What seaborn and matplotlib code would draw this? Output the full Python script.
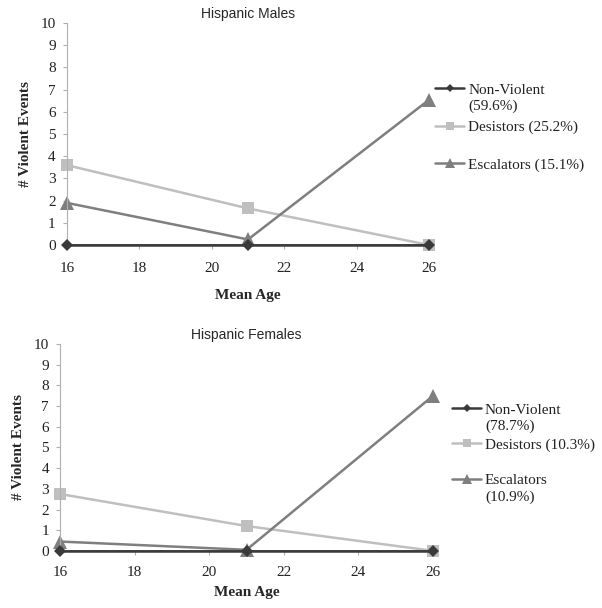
import matplotlib
matplotlib.use("Agg")
import matplotlib.pyplot as plt
from matplotlib.lines import Line2D
import pandas as pd
import seaborn as sns

sns.set_style("ticks")
plt.rcParams["font.family"] = ["Liberation Serif", "DejaVu Serif"]

ages = [16, 21, 26]
groups = ["Non-Violent", "Desistors", "Escalators"]

males_nonviolent = [0, 0, 0]
males_desistors = [3.6, 1.65, 0]
males_escalators = [1.9, 0.25, 6.55]
males_labels = ["Non-Violent\n(59.6%)", "Desistors (25.2%)", "Escalators (15.1%)"]

females_nonviolent = [0, 0, 0]
females_desistors = [2.75, 1.2, 0]
females_escalators = [0.45, 0.05, 7.5]
females_labels = ["Non-Violent\n(78.7%)", "Desistors (10.3%)", "Escalators\n(10.9%)"]

colors = {"Non-Violent": "#3a3a3a", "Desistors": "#bfbfbf", "Escalators": "#7f7f7f"}
markers = {"Non-Violent": "D", "Desistors": "s", "Escalators": "^"}
msizes = {"Non-Violent": 6, "Desistors": 8, "Escalators": 9.5}

FS = 11


def make_frame(nonviolent, desistors, escalators):
    rows = []
    for grp, vals in zip(groups, [nonviolent, desistors, escalators]):
        for age, v in zip(ages, vals):
            rows.append({"age": age, "events": v, "group": grp})
    return pd.DataFrame(rows)


def draw_panel(ax, df, title, labels, legend_anchor, spacing, xpad, xlabelpad):
    for grp in groups:
        sub = df[df.group == grp]
        sns.lineplot(
            data=sub, x="age", y="events", ax=ax,
            color=colors[grp], marker=markers[grp], markersize=msizes[grp],
            markeredgewidth=0, linewidth=1.8,
            clip_on=False, zorder=3 if grp == "Non-Violent" else 2,
        )
    ax.set_xlim(16, 26)
    ax.set_ylim(0, 10)
    ax.set_xticks(range(16, 27, 2))
    ax.set_yticks(range(0, 11))
    ax.tick_params(labelsize=FS, length=3, width=0.8, colors="#b0b0b0",
                   labelcolor="#222222", pad=5)
    ax.tick_params(axis="x", pad=xpad)
    ax.spines[["top", "right"]].set_visible(False)
    ax.spines["left"].set_color("#b0b0b0")
    ax.spines["bottom"].set_color("#3a3a3a")
    ax.spines["bottom"].set_linewidth(1.2)
    ax.set_xlabel("Mean Age", fontsize=FS, fontweight="bold", labelpad=xlabelpad)
    ax.set_ylabel("# Violent Events", fontsize=FS, fontweight="bold", labelpad=6)
    ax.set_title(title, fontsize=10, family=["Liberation Sans", "DejaVu Sans"], pad=4)

    handles = [
        Line2D([], [], color=colors[g], marker=markers[g],
               markersize=msizes[g] * 0.7, markeredgewidth=0, linewidth=1.8)
        for g in groups
    ]
    leg = ax.legend(
        handles, [l.split("\n")[0] for l in labels],
        loc="upper left", bbox_to_anchor=legend_anchor, frameon=False,
        fontsize=FS, borderpad=0, borderaxespad=0, handlelength=1.9,
        handletextpad=0.25, labelspacing=spacing,
    )
    return leg


fig = plt.figure(figsize=(6.02, 6.08), dpi=100)
ax_top = fig.add_axes([0.111, 0.597, 0.602, 0.365])
ax_bot = fig.add_axes([0.0997, 0.094, 0.6196, 0.34])

panels = [
    (ax_top, make_frame(males_nonviolent, males_desistors, males_escalators),
     "Hispanic Males", males_labels, (1.017, 0.73), 1.55, 9, 10),
    (ax_bot, make_frame(females_nonviolent, females_desistors, females_escalators),
     "Hispanic Females", females_labels, (1.051, 0.715), 1.4, 8, 5),
]

legends = []
for ax, df, title, labels, anchor, spacing, xpad, xlabelpad in panels:
    leg = draw_panel(ax, df, title, labels, anchor, spacing, xpad, xlabelpad)
    legends.append((leg, labels))

# second lines of the wrapped legend labels go right under the first line
fig.canvas.draw()
renderer = fig.canvas.get_renderer()
for leg, labels in legends:
    for txt, label in zip(leg.get_texts(), labels):
        txt.set_color("#222222")
        parts = label.split("\n")
        if len(parts) < 2:
            continue
        bb = txt.get_window_extent(renderer)
        x, y = fig.transFigure.inverted().transform((bb.x0, bb.y0 - 3))
        fig.text(x, y, parts[1], fontsize=FS, va="top", ha="left", color="#222222")

fig.savefig("out.png", dpi=100)
